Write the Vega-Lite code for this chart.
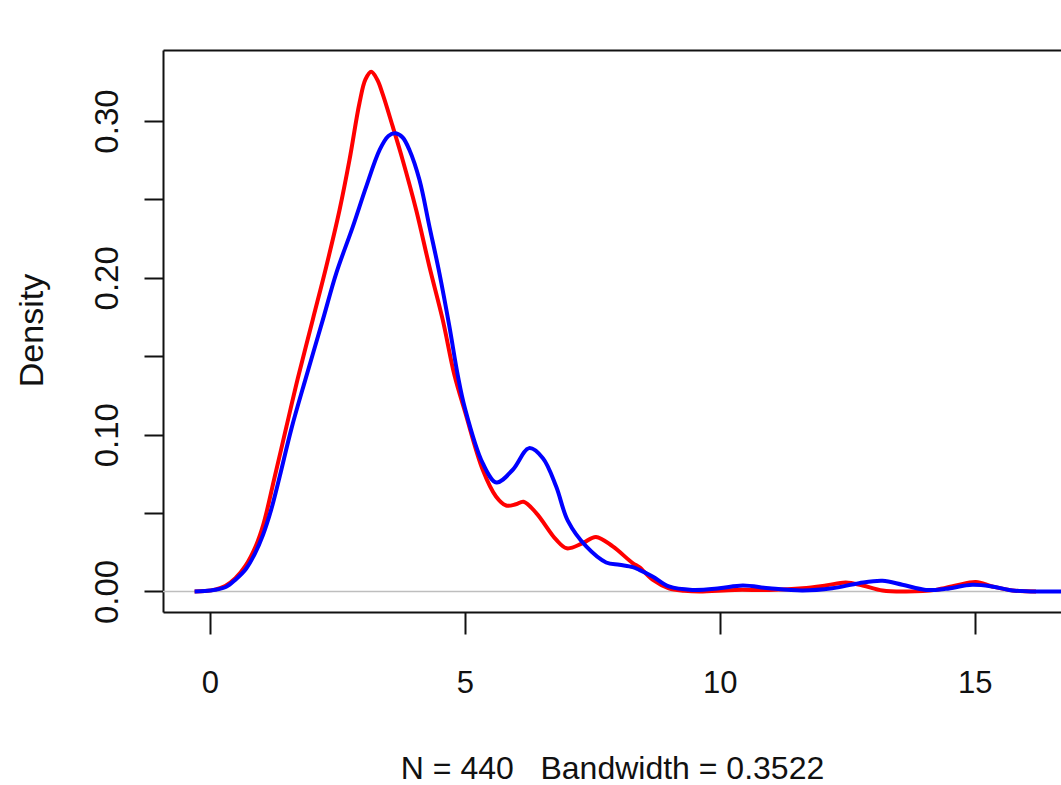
{
  "$schema": "https://vega.github.io/schema/vega-lite/v6.json",
  "autosize": {"type": "none"},
  "padding": {"left": 163, "top": 50, "right": 0, "bottom": 173},
  "width": 898,
  "height": 562,
  "background": "white",
  "config": {
    "view": {"stroke": null},
    "font": "Liberation Sans",
    "axis": {
      "grid": false,
      "domainColor": "#111111",
      "tickColor": "#111111",
      "labelColor": "#111111",
      "titleColor": "#111111",
      "domainWidth": 2,
      "tickWidth": 2,
      "labelFont": "Liberation Sans",
      "titleFont": "Liberation Sans",
      "labelFontWeight": "normal",
      "titleFontWeight": "normal"
    }
  },
  "resolve": {"axis": {"x": "independent"}},
  "data": {
    "values": [
      {"s": "red", "v": -0.3, "d": 0},
      {"s": "red", "v": -0.1, "d": 0.0003},
      {"s": "red", "v": 0.1, "d": 0.0012},
      {"s": "red", "v": 0.3, "d": 0.0035},
      {"s": "red", "v": 0.5, "d": 0.0085},
      {"s": "red", "v": 0.7, "d": 0.0165},
      {"s": "red", "v": 0.9, "d": 0.029},
      {"s": "red", "v": 1.05, "d": 0.043},
      {"s": "red", "v": 1.27, "d": 0.073},
      {"s": "red", "v": 1.5, "d": 0.105},
      {"s": "red", "v": 1.724, "d": 0.136},
      {"s": "red", "v": 2.018, "d": 0.1735},
      {"s": "red", "v": 2.281, "d": 0.2071},
      {"s": "red", "v": 2.541, "d": 0.2431},
      {"s": "red", "v": 2.737, "d": 0.2752},
      {"s": "red", "v": 2.933, "d": 0.3115},
      {"s": "red", "v": 3.05, "d": 0.3265},
      {"s": "red", "v": 3.163, "d": 0.3314},
      {"s": "red", "v": 3.28, "d": 0.3265},
      {"s": "red", "v": 3.39, "d": 0.317},
      {"s": "red", "v": 3.586, "d": 0.2964},
      {"s": "red", "v": 3.78, "d": 0.2752},
      {"s": "red", "v": 4.045, "d": 0.2433},
      {"s": "red", "v": 4.305, "d": 0.2071},
      {"s": "red", "v": 4.566, "d": 0.1732},
      {"s": "red", "v": 4.795, "d": 0.138},
      {"s": "red", "v": 5.0, "d": 0.115},
      {"s": "red", "v": 5.35, "d": 0.0776},
      {"s": "red", "v": 5.61, "d": 0.0606},
      {"s": "red", "v": 5.81, "d": 0.0548},
      {"s": "red", "v": 6.0, "d": 0.0556},
      {"s": "red", "v": 6.15, "d": 0.0572},
      {"s": "red", "v": 6.4, "d": 0.05},
      {"s": "red", "v": 6.79, "d": 0.033},
      {"s": "red", "v": 7.0, "d": 0.0275},
      {"s": "red", "v": 7.31, "d": 0.0308},
      {"s": "red", "v": 7.57, "d": 0.0348},
      {"s": "red", "v": 7.9, "d": 0.0287},
      {"s": "red", "v": 8.29, "d": 0.0181},
      {"s": "red", "v": 8.42, "d": 0.0155},
      {"s": "red", "v": 8.68, "d": 0.0075},
      {"s": "red", "v": 9.0, "d": 0.002},
      {"s": "red", "v": 9.3, "d": 0.0005},
      {"s": "red", "v": 9.6, "d": 0.0},
      {"s": "red", "v": 10.3, "d": 0.001},
      {"s": "red", "v": 10.97, "d": 0.001},
      {"s": "red", "v": 11.62, "d": 0.002},
      {"s": "red", "v": 12.08, "d": 0.0038},
      {"s": "red", "v": 12.47, "d": 0.0057},
      {"s": "red", "v": 12.8, "d": 0.0038},
      {"s": "red", "v": 13.19, "d": 0.0006},
      {"s": "red", "v": 13.65, "d": 0.0},
      {"s": "red", "v": 14.23, "d": 0.001},
      {"s": "red", "v": 14.63, "d": 0.0038},
      {"s": "red", "v": 15.02, "d": 0.006},
      {"s": "red", "v": 15.34, "d": 0.0032},
      {"s": "red", "v": 15.74, "d": 0.0006},
      {"s": "red", "v": 16.2, "d": 0.0},
      {"s": "blue", "v": -0.3, "d": 0},
      {"s": "blue", "v": -0.1, "d": 0.0003},
      {"s": "blue", "v": 0.1, "d": 0.0011},
      {"s": "blue", "v": 0.32, "d": 0.003},
      {"s": "blue", "v": 0.5, "d": 0.0075},
      {"s": "blue", "v": 0.71, "d": 0.0145},
      {"s": "blue", "v": 0.88, "d": 0.024},
      {"s": "blue", "v": 1.04, "d": 0.036},
      {"s": "blue", "v": 1.2, "d": 0.052},
      {"s": "blue", "v": 1.366, "d": 0.073},
      {"s": "blue", "v": 1.6, "d": 0.104},
      {"s": "blue", "v": 1.889, "d": 0.137},
      {"s": "blue", "v": 2.214, "d": 0.1732},
      {"s": "blue", "v": 2.477, "d": 0.2029},
      {"s": "blue", "v": 2.803, "d": 0.2327},
      {"s": "blue", "v": 3.065, "d": 0.2582},
      {"s": "blue", "v": 3.326, "d": 0.2815},
      {"s": "blue", "v": 3.5, "d": 0.2905},
      {"s": "blue", "v": 3.64, "d": 0.2922},
      {"s": "blue", "v": 3.78, "d": 0.2895},
      {"s": "blue", "v": 3.913, "d": 0.2815},
      {"s": "blue", "v": 4.109, "d": 0.2625},
      {"s": "blue", "v": 4.305, "d": 0.2327},
      {"s": "blue", "v": 4.501, "d": 0.2029},
      {"s": "blue", "v": 4.697, "d": 0.1689},
      {"s": "blue", "v": 4.86, "d": 0.138},
      {"s": "blue", "v": 5.0, "d": 0.117},
      {"s": "blue", "v": 5.35, "d": 0.0818},
      {"s": "blue", "v": 5.62, "d": 0.0695},
      {"s": "blue", "v": 5.94, "d": 0.0776},
      {"s": "blue", "v": 6.26, "d": 0.0914},
      {"s": "blue", "v": 6.53, "d": 0.085},
      {"s": "blue", "v": 6.79, "d": 0.0669},
      {"s": "blue", "v": 7.02, "d": 0.045},
      {"s": "blue", "v": 7.38, "d": 0.0287},
      {"s": "blue", "v": 7.77, "d": 0.0185},
      {"s": "blue", "v": 8.03, "d": 0.017},
      {"s": "blue", "v": 8.29, "d": 0.0155},
      {"s": "blue", "v": 8.42, "d": 0.0138},
      {"s": "blue", "v": 8.68, "d": 0.0096},
      {"s": "blue", "v": 9.0, "d": 0.0032},
      {"s": "blue", "v": 9.46, "d": 0.001},
      {"s": "blue", "v": 9.99, "d": 0.002},
      {"s": "blue", "v": 10.45, "d": 0.0038},
      {"s": "blue", "v": 10.97, "d": 0.002},
      {"s": "blue", "v": 11.62, "d": 0.0006},
      {"s": "blue", "v": 12.2, "d": 0.002},
      {"s": "blue", "v": 12.73, "d": 0.0053},
      {"s": "blue", "v": 13.19, "d": 0.0068},
      {"s": "blue", "v": 13.58, "d": 0.0043},
      {"s": "blue", "v": 14.04, "d": 0.001},
      {"s": "blue", "v": 14.43, "d": 0.0017},
      {"s": "blue", "v": 14.95, "d": 0.0043},
      {"s": "blue", "v": 15.34, "d": 0.0032},
      {"s": "blue", "v": 15.74, "d": 0.0006},
      {"s": "blue", "v": 16.2, "d": 0.0},
      {"s": "blue", "v": 16.8, "d": 0.0}
    ]
  },
  "layer": [
    {
      "data": {"values": [{"h": 0}]},
      "mark": {"type": "rule", "color": "#bebebe", "strokeWidth": 1.5},
      "encoding": {
        "y": {
          "field": "h", "type": "quantitative",
          "scale": {"domain": [-0.0131, 0.3453], "nice": false, "zero": false},
          "axis": {
            "values": [0, 0.05, 0.1, 0.15, 0.2, 0.25, 0.3],
            "tickSize": 19,
            "labelAngle": -90,
            "labelAlign": "center",
            "labelBaseline": "alphabetic",
            "labelPadding": 27,
            "labelFontSize": 33,
            "labelFlush": false,
            "labelOverlap": false,
            "labelExpr": "round(datum.value*20) % 2 == 0 ? format(datum.value, '.2f') : ''",
            "title": "Density",
            "titleFontSize": 34,
            "titleAngle": -90,
            "titleAlign": "center",
            "titleBaseline": "alphabetic",
            "titleX": -121,
            "titleY": 280
          }
        }
      }
    },
    {
      "transform": [{"filter": "datum.s === 'red'"}],
      "mark": {"type": "line", "color": "#ff0000", "strokeWidth": 4, "interpolate": "catmull-rom", "clip": true},
      "encoding": {
        "x": {
          "field": "v", "type": "quantitative",
          "scale": {"domain": [-0.92, 16.69], "nice": false, "zero": false},
          "axis": {
            "orient": "bottom",
            "values": [0, 5, 10, 15],
            "tickSize": 22,
            "labelPadding": 58,
            "labelFontSize": 31,
            "labelBaseline": "alphabetic",
            "labelFlush": false,
            "labelOverlap": false,
            "title": "N = 440\u00a0\u00a0\u00a0Bandwidth = 0.3522",
            "titleFontSize": 32,
            "titleBaseline": "alphabetic",
            "titleY": 166,
            "titlePadding": 0
          }
        },
        "y": {
          "field": "d", "type": "quantitative",
          "axis": {
            "values": [0, 0.05, 0.1, 0.15, 0.2, 0.25, 0.3],
            "tickSize": 19,
            "labelAngle": -90,
            "labelAlign": "center",
            "labelBaseline": "alphabetic",
            "labelPadding": 27,
            "labelFontSize": 33,
            "labelFlush": false,
            "labelOverlap": false,
            "labelExpr": "round(datum.value*20) % 2 == 0 ? format(datum.value, '.2f') : ''",
            "title": "Density",
            "titleFontSize": 34,
            "titleAngle": -90,
            "titleAlign": "center",
            "titleBaseline": "alphabetic",
            "titleX": -121,
            "titleY": 280
          }
        }
      }
    },
    {
      "transform": [{"filter": "datum.s === 'blue'"}],
      "mark": {"type": "line", "color": "#0000ff", "strokeWidth": 4, "interpolate": "catmull-rom", "clip": true},
      "encoding": {
        "x": {
          "field": "v", "type": "quantitative",
          "axis": {"orient": "top", "ticks": false, "labels": false, "title": null, "domain": true}
        },
        "y": {
          "field": "d", "type": "quantitative",
          "axis": {
            "values": [0, 0.05, 0.1, 0.15, 0.2, 0.25, 0.3],
            "tickSize": 19,
            "labelAngle": -90,
            "labelAlign": "center",
            "labelBaseline": "alphabetic",
            "labelPadding": 27,
            "labelFontSize": 33,
            "labelFlush": false,
            "labelOverlap": false,
            "labelExpr": "round(datum.value*20) % 2 == 0 ? format(datum.value, '.2f') : ''",
            "title": "Density",
            "titleFontSize": 34,
            "titleAngle": -90,
            "titleAlign": "center",
            "titleBaseline": "alphabetic",
            "titleX": -121,
            "titleY": 280
          }
        }
      }
    }
  ]
}
